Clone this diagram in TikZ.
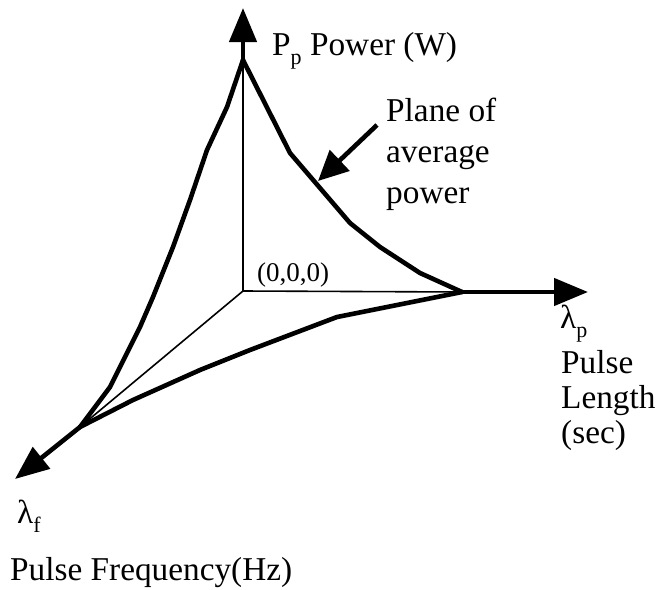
\documentclass[tikz,border=0pt]{standalone}
\usepackage{fontspec}
\setmainfont{Liberation Serif}
\usetikzlibrary{arrows.meta}
\newcommand\mysubtxt[1]{\raisebox{-0.28em}{\fontsize{22}{24}\selectfont #1}}
\tikzset{
  thickline/.style={line width=4.6pt, line join=round, line cap=round},
  thinline/.style={line width=1.6pt},
  axisarrow/.style={thickline, -{Triangle[length=34pt,width=27pt]}},
  labelarrow/.style={line width=4.6pt, -{Triangle[length=30pt,width=28pt]}},
  lbl/.style={anchor=base west, inner sep=0pt, font=\fontsize{33.3}{40}\selectfont},
  smalllbl/.style={anchor=base west, inner sep=0pt, font=\fontsize{27}{30}\selectfont},
}
\begin{document}
\begin{tikzpicture}[x=1pt,y=-1pt]
\useasboundingbox (0,0) rectangle (671,589);
% key points
\coordinate (O) at (243,291);
\coordinate (P) at (243,60);
\coordinate (L) at (462,292);
\coordinate (F) at (80,427);
\coordinate (Ptip) at (243,8);
\coordinate (Ltip) at (588,292);
\coordinate (Ftip) at (15,479);
% thin axes
\draw[thinline] (O) -- (P);
\draw[thinline] (O) -- (L);
\draw[thinline] (O) -- (F);
% plane edges
\draw[thickline] (P) -- (227,107) -- (207,150) -- (190,200) -- (173,247) -- (153,297) -- (140,327) -- (110,387) -- (F);
\draw[thickline] (P) -- (290,153) -- (350,223) -- (380,247) -- (420,273) -- (L);
\draw[thickline] (L) -- (337,317) -- (250,350) -- (200,370) -- (133,400) -- (F);
% axis arrows
\draw[axisarrow] (P) -- (Ptip);
\draw[axisarrow] (L) -- (Ltip);
\draw[axisarrow] (F) -- (Ftip);
% label arrow
\coordinate (As) at (377,125);
\coordinate (At) at (318,181);
\draw[labelarrow] (As) -- (At);
% texts
\node[lbl] (tP) at (272,55) {P\mysubtxt{p} Power (W)};
\node[lbl] (tPl1) at (386,121) {Plane of};
\node[lbl] (tPl2) at (386,162) {average};
\node[lbl] (tPl3) at (386,203) {power};
\node[smalllbl] (tO) at (257,281) {(0,0,0)};
\node[lbl] (tLam) at (560,328) {λ\mysubtxt{p}};
\node[lbl] (tL1) at (561,373) {Pulse};
\node[lbl] (tL2) at (561,408) {Length};
\node[lbl] (tL3) at (561,443) {(sec)};
\node[lbl] (tFlam) at (17,523) {λ\mysubtxt{f}};
\node[lbl] (tF) at (10,580) {Pulse Frequency(Hz)};
\end{tikzpicture}
\end{document}
